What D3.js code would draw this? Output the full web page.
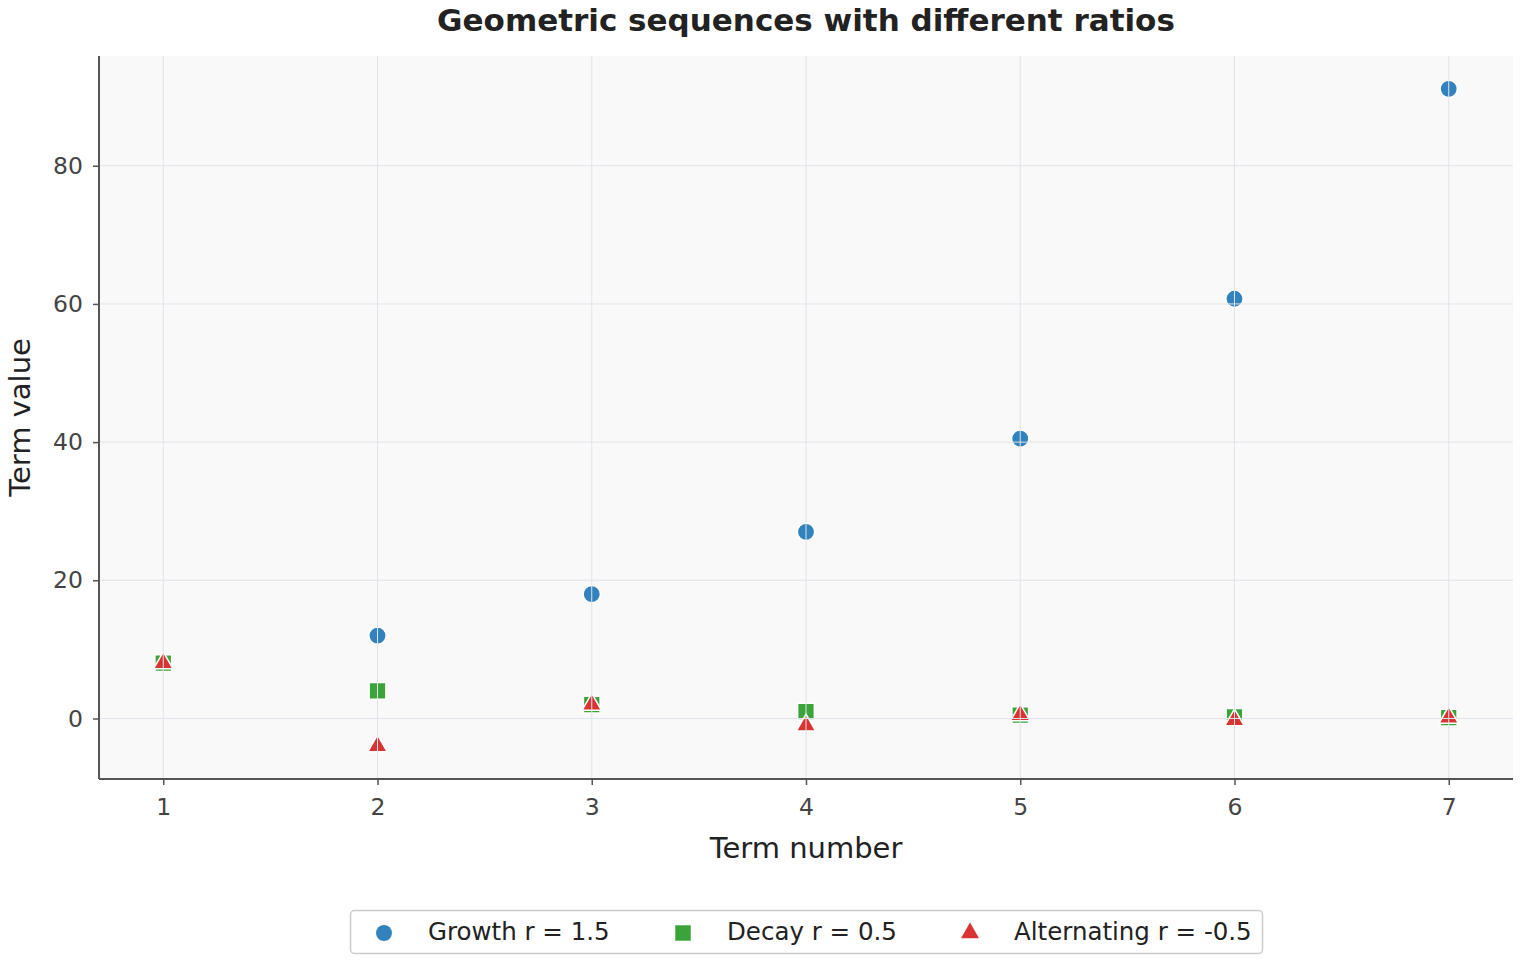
<!DOCTYPE html>
<html>
<head>
<meta charset="utf-8">
<script src="https://cdn.jsdelivr.net/npm/d3@7"></script>
<style>
  body { margin: 0; background: #fff; }
  svg { display: block; font-family: "DejaVu Sans", sans-serif; }
</style>
</head>
<body>
<div id="chart"></div>
<script>
const terms = [1, 2, 3, 4, 5, 6, 7];
const growth = [8, 12, 18, 27, 40.5, 60.75, 91.125];
const decay = [8, 4, 2, 1, 0.5, 0.25, 0.125];
const alternating = [8, -4, 2, -1, 0.5, -0.25, 0.125];
const seriesNames = ["Growth r = 1.5", "Decay r = 0.5", "Alternating r = -0.5"];
const yTicks = [0, 20, 40, 60, 80];

const width = 1520, height = 960;
const margin = { top: 56, right: 7, bottom: 181, left: 99 };
const w = width - margin.left - margin.right;
const h = height - margin.top - margin.bottom;

const series = [
  { name: seriesNames[0], values: growth, color: "#3182bd", shape: d3.symbolCircle, size: 235 },
  { name: seriesNames[1], values: decay, color: "#3aa33a", shape: d3.symbolSquare, size: 280 },
  { name: seriesNames[2], values: alternating, color: "#d93434", shape: d3.symbolTriangle, size: 165 }
];

const svg = d3.select('#chart').append('svg')
  .attr('width', width)
  .attr('height', height);

const x = d3.scaleLinear().domain([0.7, 7.3]).range([0, w]);
const allVals = growth.concat(decay, alternating);
const lo = d3.min(allVals), hi = d3.max(allVals), pad = (hi - lo) * 0.05;
const y = d3.scaleLinear().domain([lo - pad, hi + pad]).range([h, 0]);

const g = svg.append('g')
  .attr('transform', `translate(${margin.left},${margin.top})`);

g.append('rect')
  .attr('width', w)
  .attr('height', h)
  .attr('fill', '#f9f9f9');

// markers
series.forEach(s => {
  g.append('g').selectAll('path')
    .data(s.values)
    .enter().append('path')
    .attr('transform', (d, i) => `translate(${x(terms[i])},${y(d)})`)
    .attr('d', d3.symbol().type(s.shape).size(s.size))
    .attr('fill', s.color)
    .attr('stroke', 'white')
    .attr('stroke-width', 1.5);
});

// grid (drawn over the markers like the original)
g.append('g').selectAll('line.gx')
  .data(terms)
  .enter().append('line')
  .attr('x1', d => x(d)).attr('x2', d => x(d))
  .attr('y1', 0).attr('y2', h)
  .attr('stroke', '#e2e2ea')
  .attr('stroke-width', 1);

g.append('g').selectAll('line.gy')
  .data(yTicks)
  .enter().append('line')
  .attr('x1', 0).attr('x2', w)
  .attr('y1', d => y(d)).attr('y2', d => y(d))
  .attr('stroke', '#e2e2ea')
  .attr('stroke-width', 1);

// axes
const xAxis = g.append('g')
  .attr('transform', `translate(0,${h})`)
  .call(d3.axisBottom(x).tickValues(terms).tickFormat(d3.format('d')).tickSize(6).tickPadding(13));
const yAxis = g.append('g')
  .call(d3.axisLeft(y).tickValues(yTicks).tickFormat(d3.format('d')).tickSize(6).tickPadding(10));

[xAxis, yAxis].forEach(a => {
  a.select('.domain').attr('stroke', '#555').attr('stroke-width', 2);
  a.selectAll('.tick line').attr('stroke', '#555').attr('stroke-width', 1.5);
  a.selectAll('.tick text').attr('fill', '#444').attr('font-size', '23.5px')
    .attr('font-family', '"DejaVu Sans", sans-serif');
});
xAxis.select('.domain').attr('d', `M0,0H${w}`);
yAxis.select('.domain').attr('d', `M0,0V${h}`);

svg.append('text')
  .attr('x', margin.left + w / 2)
  .attr('y', 31)
  .attr('text-anchor', 'middle')
  .attr('font-size', '31px')
  .attr('font-weight', 'bold')
  .attr('fill', '#222')
  .text('Geometric sequences with different ratios');

svg.append('text')
  .attr('x', margin.left + w / 2)
  .attr('y', 858)
  .attr('text-anchor', 'middle')
  .attr('font-size', '29px')
  .attr('fill', '#222')
  .text('Term number');

svg.append('text')
  .attr('transform', `translate(30,${margin.top + h / 2}) rotate(-90)`)
  .attr('text-anchor', 'middle')
  .attr('font-size', '29px')
  .attr('fill', '#222')
  .text('Term value');

// legend
const legend = svg.append('g');
legend.append('rect')
  .attr('x', 350.5).attr('y', 910.5)
  .attr('width', 912).attr('height', 43)
  .attr('rx', 4)
  .attr('fill', 'white')
  .attr('stroke', '#ccc')
  .attr('stroke-width', 1.5);

const legendX = [384, 683, 970];
series.forEach((s, i) => {
  legend.append('path')
    .attr('transform', `translate(${legendX[i]},${933})`)
    .attr('d', d3.symbol().type(s.shape).size(s.size * 0.85))
    .attr('fill', s.color);
  legend.append('text')
    .attr('x', legendX[i] + 44)
    .attr('y', 940)
    .attr('font-size', '24.5px')
    .attr('fill', '#222')
    .text(s.name);
});
</script>
</body>
</html>
